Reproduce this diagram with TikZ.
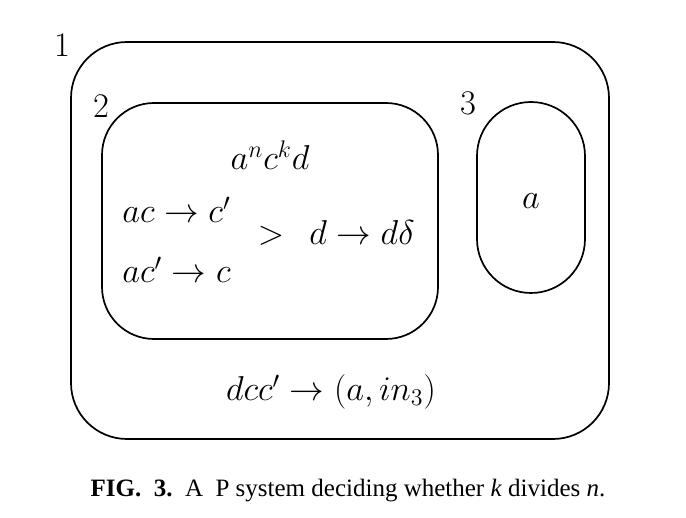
\documentclass[tikz,border=0pt]{standalone}
\usepackage{amsmath}
\usepackage{fontspec}
\newfontfamily\capfont{Liberation Serif}
\usepackage{tikz}
\tikzstyle{membrane}=[draw, line width=0.85pt, inner sep=0pt]
\tikzstyle{lbl}=[font=\LARGE, inner sep=0pt]
\usetikzlibrary{positioning}

\begin{document}
\begin{tikzpicture}[x=0.5pt,y=-0.5pt,node distance=14pt]
\useasboundingbox (0,0) rectangle (686,518);

% membranes
\node (m1) [membrane,rounded corners=28pt,minimum width=269pt,minimum height=198.5pt] at (340,240.5) {};
\node (m2) [membrane,rounded corners=26pt,minimum width=168pt,minimum height=118pt] at (270,221) {};
\node (m3) [membrane,rounded corners=27pt,minimum width=54pt,minimum height=95.5pt] at (531,197.5) {};

% labels
\node (l1) [lbl] at (62,45) {$1$};
\node (l2) [lbl] at (101,106) {$2$};
\node (l3) [lbl] at (468,103) {$3$};

% contents of 2
\node (w2) [lbl] at (270,155) {$a^nc^kd$};
\node (r1) [lbl,anchor=base west] at (122,223) {$ac\rightarrow c'$};
\node (r2) [lbl,anchor=base west] at (122,283) {$ac'\rightarrow c$};
\node (gt) [lbl] at (271,236) {$>$};
\node (r3) [lbl,anchor=base west] at (309,245) {$d\rightarrow d\delta$};

% contents of 3
\node (w3) [lbl,anchor=base] at (531,209) {$a$};

% rule of 1
\node (r4) [lbl] at (331,392) {$dcc'\rightarrow(a,in_3)$};

\node (cap) [anchor=base,inner sep=0pt,font=\capfont\fontsize{12.5}{14}\selectfont] at (348,496)
  {\textbf{FIG.\ \ 3.}\ \ A\ \ P system deciding whether \textit{k} divides \textit{n}.};
\end{tikzpicture}
\end{document}
